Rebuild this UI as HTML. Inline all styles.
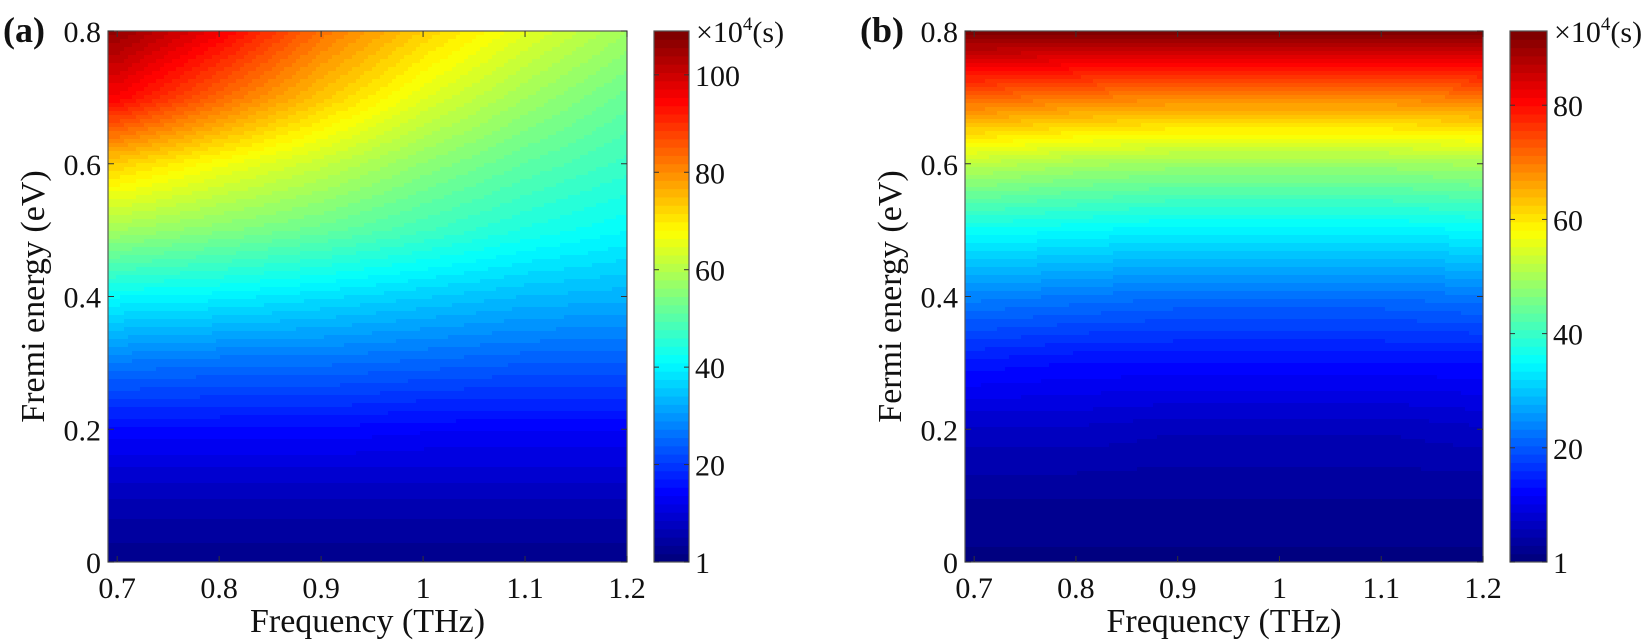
<!DOCTYPE html>
<html><head><meta charset="utf-8"><style>
html,body{margin:0;padding:0;background:#fff;}
svg{display:block;}
svg text{font-family:"Liberation Serif","Times New Roman",serif;}
</style></head><body>
<svg id="fig" width="1650" height="642" viewBox="0 0 1650 642" xmlns="http://www.w3.org/2000/svg"></svg>
<script>
// ---- data ----
const freqs = [0.7, 0.8, 0.9, 1.0, 1.1, 1.2];
const energies = [0, 0.1, 0.2, 0.3, 0.4, 0.5, 0.6, 0.7, 0.8];
const valuesA = [
  [2, 2, 2, 2, 2, 2],
  [7, 7, 7, 7, 7, 7],
  [15, 15, 15, 14, 14, 14],
  [27, 26, 26, 25, 24, 24],
  [41, 40, 38, 36, 34, 33],
  [58, 55, 52, 48, 44, 41],
  [73, 67, 62, 56, 51, 47],
  [95, 84, 74, 65, 58, 52],
  [106, 96, 83, 73, 65, 58]
];
const valuesB = [
  [1, 1, 1, 1, 1, 1],
  [3, 3, 3, 3, 3, 3],
  [7, 7, 6, 6, 6, 7],
  [14, 13, 13, 13, 13, 13],
  [24, 23, 22, 22, 22, 23],
  [36, 35, 34, 34, 34, 35],
  [52, 50, 49, 49, 49, 50],
  [72, 70, 69, 69, 69, 70],
  [93, 93, 93, 93, 93, 93]
];
const xTicks = [0.7, 0.8, 0.9, 1.0, 1.1, 1.2];
const xTickLabels = ["0.7", "0.8", "0.9", "1", "1.1", "1.2"];
const yTicks = [0, 0.2, 0.4, 0.6, 0.8];
const yTickLabels = ["0", "0.2", "0.4", "0.6", "0.8"];
const cbTicksA = [0, 20, 40, 60, 80, 100];
const cbTicksB = [0, 20, 40, 60, 80];
const cbRangeA = [0, 109];
const cbRangeB = [0, 93];

const NS = "http://www.w3.org/2000/svg";
const FONT = "Liberation Serif, Times New Roman, serif";
const svg = document.getElementById("fig");
function el(tag, attrs, parent) {
  const e = document.createElementNS(NS, tag);
  for (const k in attrs) e.setAttribute(k, attrs[k]);
  if (tag === "text") e.setAttribute("font-family", FONT);
  (parent || svg).appendChild(e);
  return e;
}
function jet(t) {
  t = Math.max(0, Math.min(1, t));
  const f = x => Math.max(0, Math.min(1, x));
  const r = f(Math.min(4 * t - 1.5, -4 * t + 4.5));
  const g = f(Math.min(4 * t - 0.5, -4 * t + 3.5));
  const b = f(Math.min(4 * t + 0.5, -4 * t + 2.5));
  return "rgb(" + Math.round(r * 255) + "," + Math.round(g * 255) + "," + Math.round(b * 255) + ")";
}
function interp(vals, f, E) {
  let i = 0; while (i < freqs.length - 2 && f > freqs[i + 1]) i++;
  let j = 0; while (j < energies.length - 2 && E > energies[j + 1]) j++;
  let u = (f - freqs[i]) / (freqs[i + 1] - freqs[i]);
  let v = (E - energies[j]) / (energies[j + 1] - energies[j]);
  u = Math.max(0, Math.min(1, u)); v = Math.max(0, Math.min(1, v));
  const a = vals[j][i], b = vals[j][i + 1], c = vals[j + 1][i], d = vals[j + 1][i + 1];
  return a * (1 - u) * (1 - v) + b * u * (1 - v) + c * (1 - u) * v + d * u * v;
}

function panel(cfg) {
  const { px0, px1, py0, py1, cb0, cb1, vals, range, cbTicks, letter, ylabel, name } = cfg;
  const xMin = 0.691, xMax = 1.2, yMin = 0, yMax = 0.8;
  const X = v => px0 + (v - xMin) / (xMax - xMin) * (px1 - px0);
  const Y = v => py1 - (v - yMin) / (yMax - yMin) * (py1 - py0);
  const CY = v => py1 - (v - range[0]) / (range[1] - range[0]) * (py1 - py0);
  const g = el("g", {});
  
  
  const cw = 4, ch = 4;
  const levels = 64;
  for (let y = py0; y < py1; y += ch) {
    for (let x = px0; x < px1; x += cw) {
      const f = xMin + (x + cw / 2 - px0) / (px1 - px0) * (xMax - xMin);
      const E = yMax - (y + ch / 2 - py0) / (py1 - py0) * (yMax - yMin);
      const v = interp(vals, f, E);
      let t = (v - range[0]) / (range[1] - range[0]);
      t = Math.floor(t * levels) / (levels - 1);
      const r = el("rect", { x: x, y: y, width: Math.min(cw, px1 - x) + 0.5, height: Math.min(ch, py1 - y) + 0.5, fill: jet(t) }, g);
      
      
    }
  }
  const frame = el("rect", { x: px0, y: py0, width: px1 - px0, height: py1 - py0, fill: "none", stroke: "#555", "stroke-width": 1.2 });
  
  
  xTicks.forEach((v, i) => {
    const x = X(v);
    el("line", { x1: x, y1: py1, x2: x, y2: py1 - 6, stroke: "#333", "stroke-width": 1 });
    el("line", { x1: x, y1: py0, x2: x, y2: py0 + 6, stroke: "#333", "stroke-width": 1 });
    const t = el("text", { x: x, y: 598, "text-anchor": "middle", "font-size": 30, fill: "#111" });
    t.textContent = xTickLabels[i];
    
    
  });
  yTicks.forEach((v, i) => {
    const y = Y(v);
    el("line", { x1: px0, y1: y, x2: px0 + 6, y2: y, stroke: "#333", "stroke-width": 1 });
    el("line", { x1: px1, y1: y, x2: px1 - 6, y2: y, stroke: "#333", "stroke-width": 1 });
    const t = el("text", { x: px0 - 7, y: y + 11, "text-anchor": "end", "font-size": 30, fill: "#111" });
    t.textContent = yTickLabels[i];
    
    
  });
  const xt = el("text", { x: (px0 + px1) / 2, y: 632, "text-anchor": "middle", "font-size": 34, fill: "#111" });
  xt.textContent = "Frequency (THz)";
  
  
  const cx = px0 - 64, cyy = (py0 + py1) / 2;
  const yt = el("text", { x: cx, y: cyy, "text-anchor": "middle", "font-size": 34, fill: "#111", transform: "rotate(-90 " + cx + " " + cyy + ")" });
  yt.textContent = ylabel;
  
  
  const lt = el("text", { x: px0 - 105, y: 42, "font-size": 36, "font-weight": "bold", fill: "#111" });
  lt.textContent = letter;
  
  
  // colorbar
  const cg = el("g", {});
  
  
  const sh = (py1 - py0) / levels;
  for (let k = 0; k < levels; k++) {
    const r = el("rect", { x: cb0, y: py1 - (k + 1) * sh, width: cb1 - cb0, height: sh + 0.5, fill: jet(k / (levels - 1)) }, cg);
    
    
  }
  el("rect", { x: cb0, y: py0, width: cb1 - cb0, height: py1 - py0, fill: "none", stroke: "#555", "stroke-width": 1.2 }, cg);
  cbTicks.forEach(v => {
    const y = CY(v);
    el("line", { x1: cb0, y1: y, x2: cb0 + 5, y2: y, stroke: "#333" }, cg);
    el("line", { x1: cb1, y1: y, x2: cb1 - 5, y2: y, stroke: "#333" }, cg);
    const t = el("text", { x: cb1 + 6, y: Math.min(y + 11, py1 + 12), "font-size": 30, fill: "#111" }, cg);
    t.textContent = v === 0 ? "1" : String(v);
    
    
  });
  const u = el("text", { x: cb1 + 7, y: 42, "font-size": 30, fill: "#111" }, cg);
  u.innerHTML = '×10<tspan dy="-12" font-size="19">4</tspan><tspan dy="12">(s)</tspan>';
  
  
}
panel({ px0: 108, px1: 627, py0: 31, py1: 562, cb0: 654, cb1: 689, vals: valuesA, range: cbRangeA, cbTicks: cbTicksA, letter: "(a)", ylabel: "Fremi energy (eV)", name: "panel-a" });
panel({ px0: 965, px1: 1483, py0: 31, py1: 562, cb0: 1510, cb1: 1547, vals: valuesB, range: cbRangeB, cbTicks: cbTicksB, letter: "(b)", ylabel: "Fermi energy (eV)", name: "panel-b" });
</script>
</body></html>
